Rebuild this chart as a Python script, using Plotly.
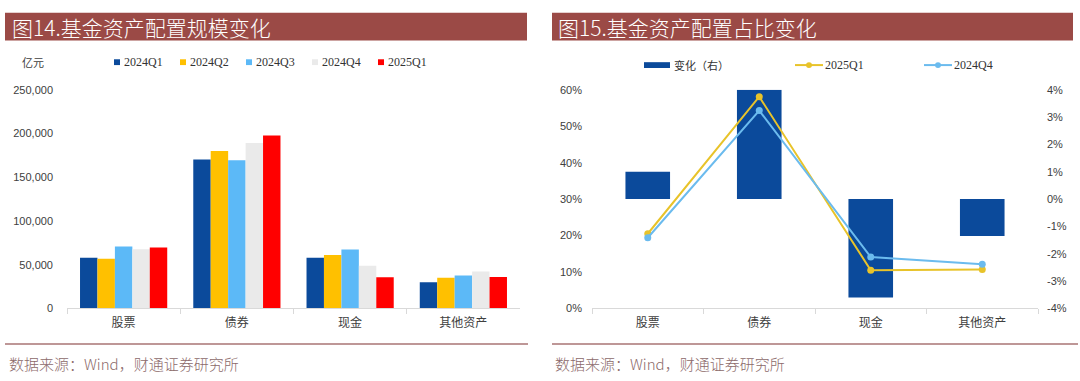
import plotly.graph_objects as go

# ---------------- data ----------------
categories = ["股票", "债券", "现金", "其他资产"]
quarters = ["2024Q1", "2024Q2", "2024Q3", "2024Q4", "2025Q1"]
scale_2024Q1 = [58100, 170400, 58100, 30000]
scale_2024Q2 = [56700, 180000, 61100, 35200]
scale_2024Q3 = [70700, 169300, 67400, 37800]
scale_2024Q4 = [67800, 189300, 48900, 42200]
scale_2025Q1 = [69600, 197800, 35600, 35900]
left_ticks = [0, 50000, 100000, 150000, 200000, 250000]

share_change = [1.0, 4.0, -3.6, -1.35]      # 变化（右）, percentage points
share_2025Q1 = [20.5, 58.1, 10.5, 10.7]     # %
share_2024Q4 = [19.4, 54.3, 14.1, 12.1]     # %
share_ticks = [0, 10, 20, 30, 40, 50, 60]
change_ticks = [-4, -3, -2, -1, 0, 1, 2, 3, 4]

title_left = "图14.基金资产配置规模变化"
title_right = "图15.基金资产配置占比变化"
unit_label = "亿元"
source_text = "数据来源：Wind，财通证券研究所"
change_name = "变化（右）"

# ---------------- style ----------------
W, H = 1080, 381
def px(x): return x / W
def py(y): return 1 - y / H

quarter_colors = ["#0B4A9B", "#FFC000", "#5CB9F7", "#EAEAEA", "#FF0000"]
bar_blue = "#0B4A9B"
yellow = "#E8C32A"
lightblue = "#6BBBEE"
title_bg = "#9B4A46"
rule_color = "#A87474"
source_color = "#8C6A6A"
axis_color = "#D9D9D9"
tick_color = "#404040"
sans = "Arial, Liberation Sans, Noto Sans CJK SC, sans-serif"
serif = "Times New Roman, Liberation Serif, Noto Sans CJK SC, serif"
cjk = "Noto Sans CJK SC, sans-serif"

fig = go.Figure()

# left chart: grouped bars
for q, vals, col in zip(quarters,
                        [scale_2024Q1, scale_2024Q2, scale_2024Q3, scale_2024Q4, scale_2025Q1],
                        quarter_colors):
    fig.add_trace(go.Bar(x=categories, y=vals, name=q, marker_color=col,
                         marker_line_width=0, xaxis="x", yaxis="y", showlegend=False))

# right chart: change bars (right axis) + share lines (left axis)
fig.add_trace(go.Bar(x=categories, y=share_change, name=change_name, width=0.4,
                     marker_color=bar_blue, marker_line_width=0,
                     xaxis="x2", yaxis="y2", showlegend=False))
fig.add_trace(go.Scatter(x=categories, y=share_2025Q1, name="2025Q1", mode="lines+markers",
                         line=dict(color=yellow, width=2), marker=dict(color=yellow, size=7),
                         xaxis="x2", yaxis="y3", showlegend=False))
fig.add_trace(go.Scatter(x=categories, y=share_2024Q4, name="2024Q4", mode="lines+markers",
                         line=dict(color=lightblue, width=2), marker=dict(color=lightblue, size=7),
                         xaxis="x2", yaxis="y3", showlegend=False))

ydom = [py(312.3), py(86.5)]
xaxis_common = dict(type="category", showline=True, linecolor=axis_color, linewidth=1,
                    ticks="outside", tickson="boundaries", ticklen=5, tickcolor=axis_color,
                    showgrid=False, zeroline=False, ticklabelstandoff=3,
                    tickfont=dict(family=sans, size=12, color=tick_color))
yaxis_common = dict(showgrid=False, zeroline=False, showline=False, ticks="",
                    tickfont=dict(family=sans, size=11, color=tick_color))

fig.update_layout(
    width=W, height=H,
    margin=dict(l=0, r=0, t=0, b=0),
    paper_bgcolor="white", plot_bgcolor="rgba(0,0,0,0)",
    barmode="group", bargap=0.23, bargroupgap=0,
    xaxis=dict(domain=[px(67), px(520)], anchor="y", **xaxis_common),
    yaxis=dict(domain=ydom, anchor="x", range=[0, 250000], tickvals=left_ticks,
               tickformat=",", ticklabelstandoff=13, **yaxis_common),
    xaxis2=dict(domain=[px(592), px(1038)], anchor="y2", **xaxis_common),
    yaxis2=dict(domain=ydom, anchor="x2", side="right", range=[-4, 4],
                tickvals=change_ticks, ticktext=[f"{v}%" for v in change_ticks],
                ticklabelstandoff=8, **yaxis_common),
    yaxis3=dict(overlaying="y2", anchor="x2", side="left", range=[0, 60],
                tickvals=share_ticks, ticktext=[f"{v}%" for v in share_ticks],
                ticklabelstandoff=9, **yaxis_common),
    showlegend=False,
)

shapes = []
annotations = []

# title bars
for x0, x1, text, tx in [(5, 527, title_left, 10), (552, 1073, title_right, 556)]:
    shapes.append(dict(type="rect", xref="paper", yref="paper", x0=px(x0), x1=px(x1),
                       y0=py(35.5), y1=py(7), fillcolor=title_bg, line_width=0, layer="below"))
    annotations.append(dict(xref="paper", yref="paper", x=px(tx), y=py(21.5), text=text,
                            showarrow=False, xanchor="left", yanchor="middle",
                            font=dict(family=cjk, size=21, color="white", weight=300)))

# footer rules and source text
for x0, x1, tx in [(5, 528, 7), (552, 1078, 553)]:
    shapes.append(dict(type="line", xref="paper", yref="paper", x0=px(x0), x1=px(x1),
                       y0=py(349), y1=py(349), line=dict(color=rule_color, width=1.5)))
    annotations.append(dict(xref="paper", yref="paper", x=px(tx), y=py(369), text=source_text,
                            showarrow=False, xanchor="left", yanchor="middle",
                            font=dict(family=cjk, size=15, color=source_color, weight=300)))

# left legend (unit + quarter swatches)
annotations.append(dict(xref="paper", yref="paper", x=px(20), y=py(58), text=unit_label,
                        showarrow=False, xanchor="left", yanchor="middle",
                        font=dict(family=cjk, size=11, color=tick_color)))
leg_start, leg_step = 117, 66
for i, (q, col) in enumerate(zip(quarters, quarter_colors)):
    cx = leg_start + i * leg_step
    shapes.append(dict(type="rect", xref="paper", yref="paper", x0=px(cx - 3), x1=px(cx + 3),
                       y0=py(61), y1=py(55), fillcolor=col, line_width=0))
    annotations.append(dict(xref="paper", yref="paper", x=px(cx + 5), y=py(58), text=q,
                            showarrow=False, xanchor="left", yanchor="middle",
                            font=dict(family=serif, size=12, color="#333333")))

# right legend
shapes.append(dict(type="rect", xref="paper", yref="paper", x0=px(644), x1=px(670),
                   y0=py(64), y1=py(58), fillcolor=bar_blue, line_width=0))
annotations.append(dict(xref="paper", yref="paper", x=px(672), y=py(61), text=change_name,
                        showarrow=False, xanchor="left", yanchor="middle",
                        font=dict(family=cjk, size=11, color="#333333")))
for x0, name, col in [(795, "2025Q1", yellow), (924, "2024Q4", lightblue)]:
    shapes.append(dict(type="line", xref="paper", yref="paper", x0=px(x0), x1=px(x0 + 28),
                       y0=py(61), y1=py(61), line=dict(color=col, width=2)))
    shapes.append(dict(type="circle", xref="paper", yref="paper", x0=px(x0 + 11), x1=px(x0 + 17),
                       y0=py(64), y1=py(58), fillcolor=col, line_width=0))
    annotations.append(dict(xref="paper", yref="paper", x=px(x0 + 28), y=py(61), text=name,
                            showarrow=False, xanchor="left", yanchor="middle",
                            font=dict(family=serif, size=12, color="#333333")))

fig.update_layout(shapes=shapes, annotations=annotations)
fig.write_html("out.html", config={"displayModeBar": False},
               post_script="document.body.style.margin='0';")
